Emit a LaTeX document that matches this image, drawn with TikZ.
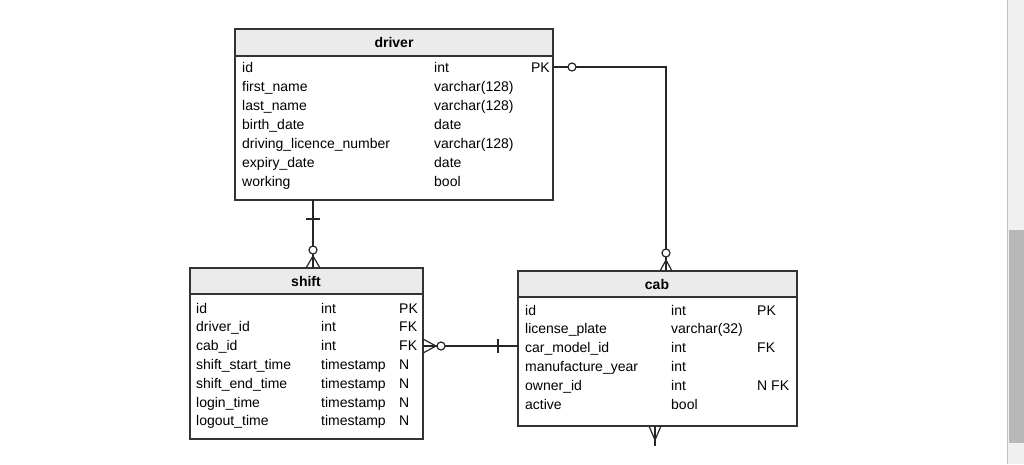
\documentclass[tikz,border=0pt]{standalone}
\usepackage{fontspec}
\setmainfont{Liberation Sans}
\begin{document}
\begin{tikzpicture}[x=1pt,y=-1pt,
  box/.style={draw=black!80,line width=1.3pt},
  hdr/.style={fill=black!8,draw=black!80,line width=1.3pt},
  t/.style={anchor=base west,inner sep=0pt,font=\fontsize{14}{16}\selectfont},
  tk/.style={anchor=base east,inner sep=0pt,font=\fontsize{14}{16}\selectfont},
  ht/.style={inner sep=0pt,font=\fontsize{14}{16}\selectfont\bfseries},
  ln/.style={line width=1.2pt,black!85},
  circ/.style={circle,draw=black!85,line width=1.2pt,fill=white,inner sep=0pt,minimum size=8pt}]
\useasboundingbox (0,0) rectangle (1024,464);
% scrollbar
\fill[black!6] (1007,0) rectangle (1024,464);
\draw[black!25] (1007,0) -- (1007,464);
\fill[black!28] (1009,230) rectangle (1024,443);
% driver
\draw[hdr] (235,29) rectangle (553,56);
\draw[box] (235,56) rectangle (553,200);
\node[ht] (dh) at (394,42) {driver};
\foreach \n/\a/\b/\c [count=\i from 0] in {id/int/PK,first\_name/varchar(128)/,last\_name/varchar(128)/,birth\_date/date/,driving\_licence\_number/varchar(128)/,expiry\_date/date/,working/bool/}{
  \node[t] (d\i a) at (242,72+19*\i) {\n};
  \node[t] (d\i b) at (434,72+19*\i) {\a};
  \node[tk] (d\i c) at (550,72+19*\i) {\b};
}
% shift
\draw[hdr] (190,268) rectangle (423,294);
\draw[box] (190,294) rectangle (423,439);
\node[ht] (sh) at (306,281) {shift};
\foreach \n/\a/\b [count=\i from 0] in {id/int/PK,driver\_id/int/FK,cab\_id/int/FK,shift\_start\_time/timestamp/N,shift\_end\_time/timestamp/N,login\_time/timestamp/N,logout\_time/timestamp/N}{
  \node[t] (s\i a) at (196,313+18.8*\i) {\n};
  \node[t] (s\i b) at (321,313+18.8*\i) {\a};
  \node[t] (s\i c) at (399,313+18.8*\i) {\b};
}
% cab
\draw[hdr] (518,271) rectangle (797,297);
\draw[box] (518,297) rectangle (797,426);
\node[ht] (ch) at (657,284) {cab};
\foreach \n/\a/\b [count=\i from 0] in {id/int/PK,license\_plate/varchar(32)/,car\_model\_id/int/FK,manufacture\_year/int/,owner\_id/int/N FK,active/bool/}{
  \node[t] (c\i a) at (525,315+18.8*\i) {\n};
  \node[t] (c\i b) at (671,315+18.8*\i) {\a};
  \node[t] (c\i c) at (757,315+18.8*\i) {\b};
}
% driver -> cab
\coordinate (p1) at (553,67);
\coordinate (p2) at (666,67);
\coordinate (p3) at (666,271);
\draw[ln] (p1) -- (p2) -- (p3);
\draw[ln] (660,271) -- (666,260) -- (672,271) (666,260) -- (666,271);
\node[circ] (o1) at (572,67) {};
\node[circ] (o2) at (666,253) {};
% driver -> shift
\coordinate (q1) at (313,200);
\coordinate (q2) at (313,268);
\draw[ln] (q1) -- (q2);
\draw[ln] (306,219) -- (320,219);
\draw[ln] (306,268) -- (313,256) -- (320,268);
\node[circ] (o3) at (313,250) {};
% shift -> cab
\coordinate (r1) at (423,346);
\coordinate (r2) at (518,346);
\draw[ln] (r1) -- (r2);
\draw[ln] (423,339) -- (436,346) -- (423,353);
\draw[ln] (498,339) -- (498,353);
\node[circ] (o4) at (441,346) {};
% cab bottom
\coordinate (b1) at (655,426);
\coordinate (b2) at (655,446);
\draw[ln] (b1) -- (b2);
\draw[ln] (649,426) -- (655,440) -- (661,426);
\end{tikzpicture}
\end{document}
